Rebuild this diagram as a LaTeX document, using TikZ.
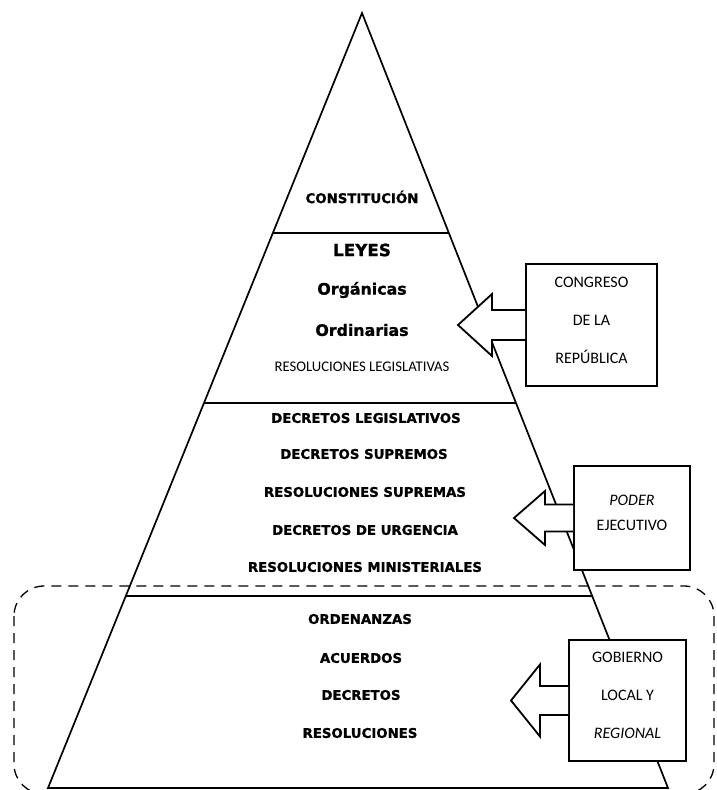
\documentclass[tikz,border=0pt]{standalone}
\usepackage{fontspec}
\setmainfont{DejaVu Sans}[BoldFeatures={FakeBold=1.2}]
\newfontfamily\carlito{Carlito}
\usepackage{tikz}
\usetikzlibrary{calc}

\tikzset{
  lvl/.style={font=\bfseries\fontsize{13.3}{15}\selectfont, inner sep=1pt},
  ley/.style={font=\bfseries\fontsize{15.8}{18}\selectfont, inner sep=1pt},
  orgbox/.style={draw, line width=2pt, fill=white, inner sep=0pt},
  orgtxt/.style={font=\carlito\fontsize{16}{38}\selectfont, align=center, inner sep=0pt},
  flecha/.style={draw, line width=1.8pt, fill=white, line join=miter},
}

\begin{document}
\begin{tikzpicture}[x=1pt,y=-1pt]
            \useasboundingbox (0,0) rectangle (717,790);

            % Piramide
            \coordinate (apex) at (362,13);
            \coordinate (bl) at (48,788);
            \coordinate (br) at (668,788);
            \draw[line width=1.7pt, line join=miter] (bl) -- (apex) -- (br) -- cycle;

            % Niveles
            \foreach \t in {0.2839,0.5032,0.7523}
                \draw[line width=2.2pt] ($(apex)!\t!(bl)$) -- ($(apex)!\t!(br)$);

            % Gobierno local y regional
            \draw[line width=1.3pt, dash pattern=on 10pt off 7pt, rounded corners=30pt] (14,586) rectangle (714,794);

            % Textos
            \node[lvl] (const) at (362,197) {CONSTITUCIÓN};
            \node[lvl, font=\bfseries\fontsize{16.8}{18}\selectfont] (leyes) at (362,250) {LEYES};
            \node[ley] (organicas) at (362,290) {Orgánicas};
            \node[ley] (ordinarias) at (362,330) {Ordinarias};
            \node[font=\carlito\fontsize{14.7}{16}\selectfont, inner sep=1pt] (resleg) at (362,367) {RESOLUCIONES LEGISLATIVAS};
            \node[lvl] (decleg) at (366,418) {DECRETOS LEGISLATIVOS};
            \node[lvl] (decsup) at (364,454) {DECRETOS SUPREMOS};
            \node[lvl] (ressup) at (365,492) {RESOLUCIONES SUPREMAS};
            \node[lvl] (decurg) at (365,530) {DECRETOS DE URGENCIA};
            \node[lvl] (resmin) at (365,567) {RESOLUCIONES MINISTERIALES};
            \node[lvl] (ordenanzas) at (360,619) {ORDENANZAS};
            \node[lvl] (acuerdos) at (361,658) {ACUERDOS};
            \node[lvl] (decretos) at (361,695) {DECRETOS};
            \node[lvl] (resol) at (360,733) {RESOLUCIONES};

            % Organos
            \node[orgbox, minimum width=131pt, minimum height=122pt] (cong) at (591.5,325) {};
            \node[orgbox, minimum width=116pt, minimum height=104pt] (pod) at (632,518) {};
            \node[orgbox, minimum width=117pt, minimum height=121pt] (gob) at (627.5,700.5) {};

            \node[orgtxt] (congtxt) at ([yshift=5pt]cong.center) {CONGRESO\\DE LA\\REPÚBLICA};
            \node[orgtxt, font=\carlito\fontsize{16}{25}\selectfont] (podtxt) at ([yshift=5.5pt]pod.center) {\textit{PODER}\\EJECUTIVO};
            \node[orgtxt] (gobtxt) at ([yshift=5pt]gob.center) {GOBIERNO\\LOCAL Y\\\textit{REGIONAL}};

            % Flechas
            \foreach \b/\tip/\head/\hh/\sh in {cong/67/33/31/15, pod/59/28/27/13.5, gob/57/28/36/14.5}
                \draw[flecha] ($(\b.west)+(0,-\sh)$) -- ++(-\head,0) -- ++(0,\sh-\hh)
                    -- ++(\head-\tip,\hh) -- ++(\tip-\head,\hh) -- ++(0,\sh-\hh) -- ++(\head,0);
\end{tikzpicture}
\end{document}
